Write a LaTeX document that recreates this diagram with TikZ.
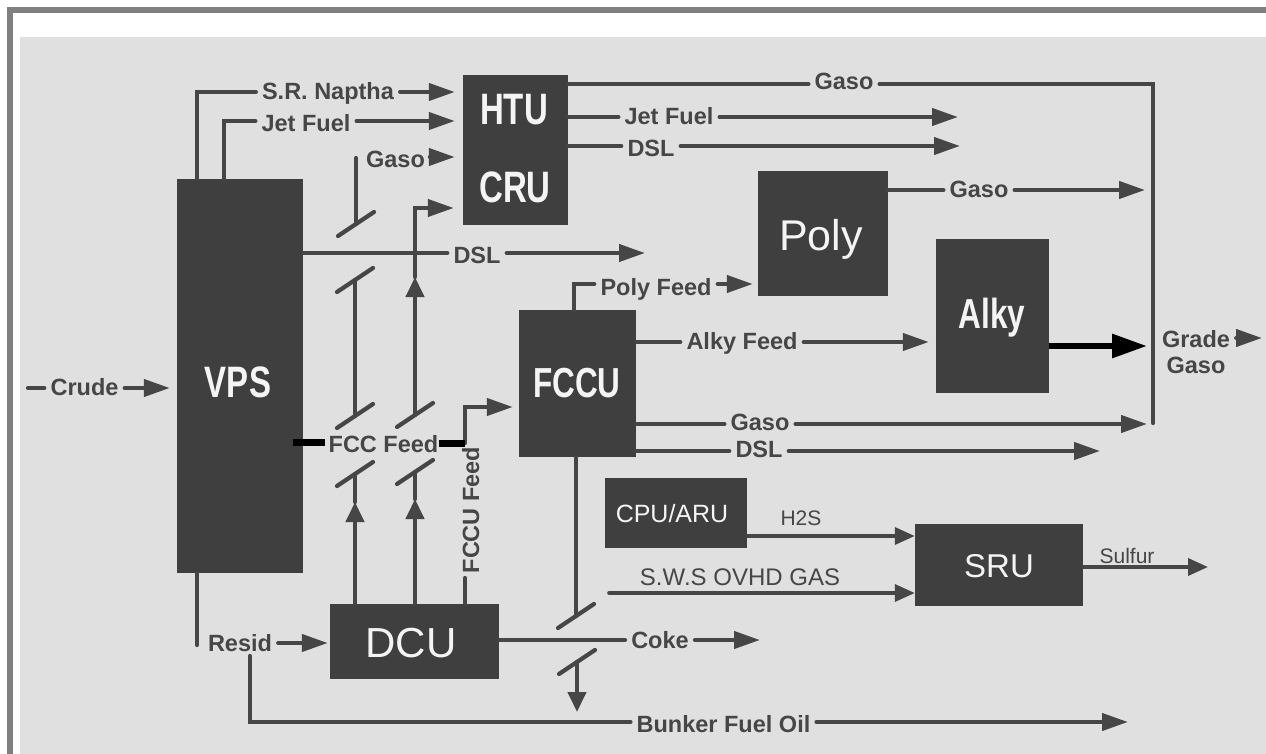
\documentclass[tikz,border=0pt]{standalone}
\usepackage{fontspec}
\setmainfont{Liberation Sans}
\usepackage{graphicx}
\usetikzlibrary{arrows.meta}
\definecolor{bgc}{HTML}{E0E0E0}
\definecolor{boxc}{HTML}{3F3F3F}
\definecolor{inkc}{HTML}{464646}
\definecolor{framec}{HTML}{808080}
\definecolor{whitec}{HTML}{F4F4F4}
\newcommand{\lblsize}{\fontsize{23.5}{24}\selectfont}
\newcommand{\cbold}[2]{\scalebox{0.75}[1]{\bfseries\fontsize{#1}{#1}\selectfont #2}}
\tikzset{
  box/.style={fill=boxc, draw=none, inner sep=0pt},
  flow/.style={draw=inkc, line width=4.2pt, line cap=round},
  arr/.style={flow, -{Triangle[length=26pt,width=17pt]}},
  sarr/.style={flow, -{Triangle[length=20pt,width=18pt]}},
  tarr/.style={draw=inkc, line width=3.6pt, line cap=round, -{Triangle[length=20pt,width=17pt]}},
  blackarr/.style={draw=black, line width=6pt, -{Triangle[length=35pt,width=23pt]}},
  bar/.style={draw=black, line width=7pt},
  lbl/.style={text=inkc, font=\bfseries\lblsize, inner xsep=6pt, inner ysep=0pt, anchor=base},
  rlbl/.style={text=inkc, inner xsep=4pt, inner ysep=0pt, anchor=base},
  boxlbl/.style={text=whitec, inner sep=0pt, anchor=base},
}
\begin{document}
\begin{tikzpicture}[x=1pt,y=-1pt]
\useasboundingbox (0,0) rectangle (1266,754);
\fill[white] (0,0) rectangle (1266,754);
\draw[framec, line width=6pt] (10,760) -- (10,10) -- (1270,10);
\fill[bgc] (20,37) rectangle (1266,754);

% boxes
\node[box, minimum width=126pt, minimum height=394pt] (vps) at (240,376) {};
\node[box, minimum width=105pt, minimum height=150pt] (htu) at (515.5,150) {};
\node[box, minimum width=130pt, minimum height=125pt] (poly) at (823,233.5) {};
\node[box, minimum width=113pt, minimum height=154pt] (alky) at (992.5,316) {};
\node[box, minimum width=117pt, minimum height=147pt] (fccu) at (577.5,383.5) {};
\node[box, minimum width=169pt, minimum height=75pt] (dcu) at (414.5,641.5) {};
\node[box, minimum width=142pt, minimum height=70pt] (cpu) at (676,513) {};
\node[box, minimum width=168pt, minimum height=82pt] (sru) at (999,565) {};

% box labels
\node[boxlbl] (tvps) at (238,397) {\cbold{44}{VPS}};
\node[boxlbl] (thtu) at (514,125) {\cbold{44}{HTU}};
\node[boxlbl] (tcru) at (515,203) {\cbold{44}{CRU}};
\node[boxlbl] (tfccu) at (577,397) {\cbold{42}{FCCU}};
\node[boxlbl] (talky) at (992,328) {\cbold{42}{Alky}};
\node[boxlbl] (tpoly) at (821,250) {\fontsize{43}{43}\selectfont Poly};
\node[boxlbl] (tdcu) at (411,657) {\fontsize{42}{42}\selectfont DCU};
\node[boxlbl] (tcpu) at (672,522) {\fontsize{25}{25}\selectfont CPU/ARU};
\node[boxlbl] (tsru) at (999,577) {\fontsize{33}{33}\selectfont SRU};

% stream labels
\node[lbl] (nap) at (328,100) {S.R. Naptha};
\node[lbl] (jf1) at (306,132) {Jet Fuel};
\node[lbl] (gs1) at (395.5,168) {Gaso};
\node[lbl] (dsl1) at (477,263) {DSL};
\node[lbl] (gs2) at (844,90) {Gaso};
\node[lbl] (jf2) at (669,125) {Jet Fuel};
\node[lbl] (dsl2) at (651,157) {DSL};
\node[lbl] (gs4) at (979,198) {Gaso};
\node[lbl] (pf) at (656,295) {Poly Feed};
\node[lbl] (af) at (742,349) {Alky Feed};
\node[lbl] (grade) at (1196,347) {Grade};
\node[lbl] (gradeg) at (1196,373) {Gaso};
\node[lbl] (gs3) at (760,430) {Gaso};
\node[lbl] (dsl3) at (759,457) {DSL};
\node[lbl] (crude) at (84.5,395) {Crude};
\node[lbl] (fcc) at (383.5,452) {FCC Feed};
\node[lbl, rotate=90] (fccuf) at (479,510) {FCCU Feed};
\node[lbl] (resid) at (240,651) {Resid};
\node[lbl] (coke) at (660,648) {Coke};
\node[lbl] (bfo) at (723.5,732) {Bunker Fuel Oil};
\node[rlbl, font=\fontsize{21}{21}\selectfont] (h2s) at (801,525) {H2S};
\node[rlbl, font=\fontsize{24}{24}\selectfont] (sws) at (740,585) {S.W.S OVHD GAS};
\node[rlbl, font=\fontsize{21}{21}\selectfont] (sulf) at (1127,563) {Sulfur};

% coordinates
\coordinate (p1) at (197,92);
\coordinate (p2) at (224,121);
\coordinate (p3) at (420,157);
\coordinate (c1top) at (356,158);
\coordinate (s1) at (356,224);
\coordinate (s2) at (355,280);
\coordinate (s3) at (355,416);
\coordinate (s4) at (355,474);
\coordinate (c1arr) at (355,502);
\coordinate (s5) at (415,415);
\coordinate (s7) at (415,472);
\coordinate (c2arr) at (415,499);
\coordinate (c2a) at (415,277);
\coordinate (c2top) at (415,208);
\coordinate (p4) at (0,253);
\coordinate (dsl1end) at (645,253);
\coordinate (fb1) at (293,442);
\coordinate (fb2) at (325,442);
\coordinate (fb3) at (439,443);
\coordinate (q1) at (465,443);
\coordinate (q2) at (465,407);
\coordinate (q3) at (465,578);
\coordinate (p5) at (574,284);
\coordinate (p6) at (0,342);
\coordinate (p7) at (0,84);
\coordinate (corner) at (1153,84);
\coordinate (cbot) at (1153,423);
\coordinate (p8) at (0,117);
\coordinate (jfend) at (958,117);
\coordinate (p9) at (0,146);
\coordinate (dslend) at (960,146);
\coordinate (p10) at (0,190);
\coordinate (p11) at (0,346);
\coordinate (gend) at (1262,338);
\coordinate (p12) at (0,424);
\coordinate (p13) at (0,451);
\coordinate (dsl3end) at (1100,451);
\coordinate (p14) at (28,388);
\coordinate (p15) at (197,645);
\coordinate (p16) at (0,643);
\coordinate (p17) at (250,656);
\coordinate (p18) at (250,722);
\coordinate (bfoend) at (1128,722);
\coordinate (p19) at (0,640);
\coordinate (cokeend) at (760,640);
\coordinate (s8) at (576,616);
\coordinate (s9) at (577,662);
\coordinate (s9end) at (577,712);
\coordinate (p20) at (0,536);
\coordinate (p21) at (609,593);
\coordinate (p22) at (0,567);
\coordinate (sulfend) at (1208,567);

% inputs to HTU/CRU
\draw[flow] (vps.north -| p1) -- (p1) -- (nap.west |- p1);
\draw[arr, shorten >=8pt] (nap.east |- p1) -- (htu.west |- p1);
\draw[flow] (vps.north -| p2) -- (p2) -- (jf1.west |- p2);
\draw[arr, shorten >=8pt] (jf1.east |- p2) -- (htu.west |- p2);
\draw[arr, shorten >=8pt] (gs1.east |- p3) -- (htu.west |- p3);

% valve column 1
\draw[flow] (c1top) -- (s1);
\draw[flow] (s1) ++(-18,12) -- ++(36,-24);
\draw[flow] (s2) ++(-18,12) -- ++(36,-24);
\draw[flow] (s2) -- (s3);
\draw[flow] (s3) ++(-18,12) -- ++(36,-24);
\draw[flow] (s4) ++(-18,12) -- ++(36,-24);
\draw[flow] (c1arr) -- (s4);
\draw[sarr] (dcu.north -| s4) -- (c1arr);

% valve column 2
\draw[sarr] (s5) -- (c2a);
\draw[arr, shorten >=9pt] (c2a) -- (c2top) -- (htu.west |- c2top);
\draw[flow] (s5) ++(-18,12) -- ++(36,-24);
\draw[flow] (s7) ++(-18,12) -- ++(36,-24);
\draw[flow] (c2arr) -- (s7);
\draw[sarr] (dcu.north -| s7) -- (c2arr);

% DSL from VPS
\draw[flow] (vps.east |- p4) -- (dsl1.west |- p4);
\draw[arr] (dsl1.east |- p4) -- (dsl1end);

% FCC feed
\draw[arr, shorten >=6pt] (q1) -- (q2) -- (fccu.west |- q2);
\draw[bar] (fb1) -- (fb2);
\draw[bar] (fb3) -- (q1);
\draw[flow] (dcu.north -| q3) -- (q3);

% FCCU outputs
\draw[flow] (fccu.north -| p5) -- (p5) -- (pf.west |- p5);
\draw[arr, shorten >=5pt] (pf.east |- p5) -- (poly.west |- p5);
\draw[flow] (fccu.east |- p6) -- (af.west |- p6);
\draw[arr, shorten >=7pt] (af.east |- p6) -- (alky.west |- p6);
\draw[flow] (fccu.east |- p12) -- (gs3.west |- p12);
\draw[arr, shorten >=6pt] (gs3.east |- p12) -- (corner |- p12);
\draw[flow] (fccu.east |- p13) -- (dsl3.west |- p13);
\draw[arr] (dsl3.east |- p13) -- (dsl3end);

% HTU/CRU outputs
\draw[flow] (htu.east |- p7) -- (gs2.west |- p7);
\draw[flow] (gs2.east |- p7) -- (corner) -- (cbot);
\draw[flow] (htu.east |- p8) -- (jf2.west |- p8);
\draw[arr] (jf2.east |- p8) -- (jfend);
\draw[flow] (htu.east |- p9) -- (dsl2.west |- p9);
\draw[arr] (dsl2.east |- p9) -- (dslend);

% Poly, Alky
\draw[flow] (poly.east |- p10) -- (gs4.west |- p10);
\draw[arr, shorten >=8pt] (gs4.east |- p10) -- (corner |- p10);
\draw[blackarr, shorten >=6pt] (alky.east |- p11) -- (corner |- p11);
\draw[arr] (grade.east |- gend) -- (gend);

% Crude
\draw[flow] (p14) -- (crude.west |- p14);
\draw[arr, shorten >=7pt] (crude.east |- p14) -- (vps.west |- p14);

% Resid, bunker, coke
\draw[flow] (vps.south -| p15) -- (p15);
\draw[arr, shorten >=2pt] (resid.east |- p16) -- (dcu.west |- p16);
\draw[flow] (p17) -- (p18) -- (bfo.west |- p18);
\draw[arr] (bfo.east |- p18) -- (bfoend);
\draw[flow] (dcu.east |- p19) -- (coke.west |- p19);
\draw[arr] (coke.east |- p19) -- (cokeend);
\draw[flow] (fccu.south -| s8) -- (s8);
\draw[flow] (s8) ++(-18,12) -- ++(36,-24);
\draw[flow] (s9) ++(-18,12) -- ++(36,-24);
\draw[sarr] (s9) -- (s9end);

% sulfur section
\draw[tarr] (cpu.east |- p20) -- (sru.west |- p20);
\draw[tarr] (p21) -- (sru.west |- p21);
\draw[tarr] (sru.east |- p22) -- (sulfend);
\end{tikzpicture}
\end{document}
